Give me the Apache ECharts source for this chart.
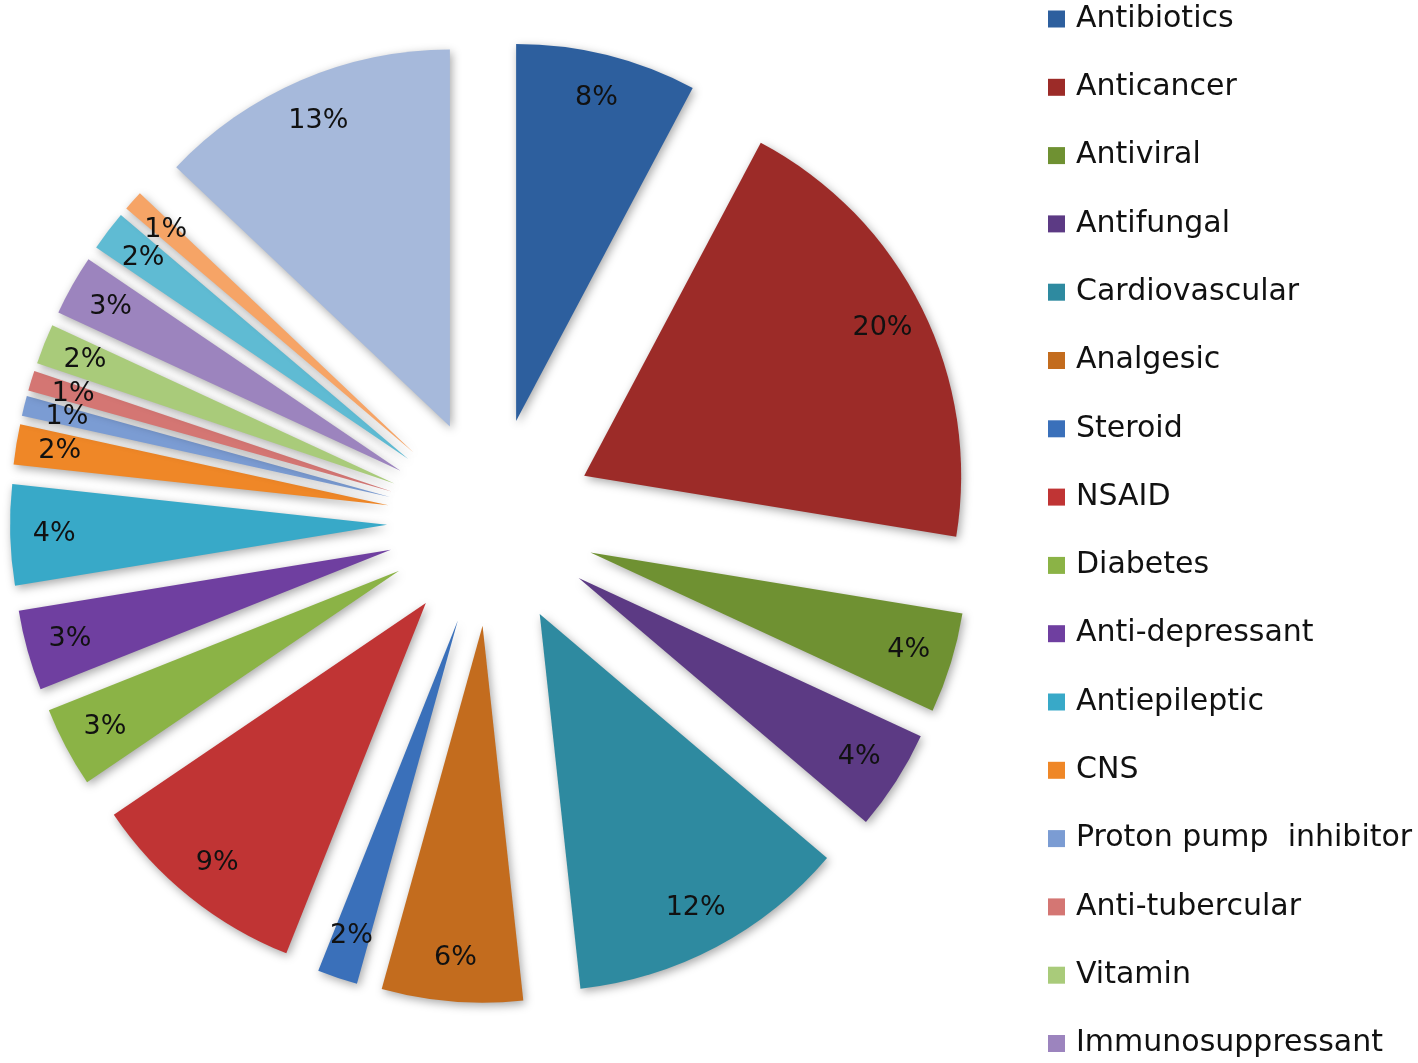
<!DOCTYPE html>
<html>
<head>
<meta charset="utf-8">
<script src="https://cdn.jsdelivr.net/npm/echarts@6/dist/echarts.min.js"></script>
<style>
html,body{margin:0;padding:0;background:#fff;}
#chart{width:1418px;height:1063px;}
</style>
</head>
<body>
<div id="chart"></div>
<script>
// Categories (last three are not visible in the cut-off legend)
const categories = [
  'Antibiotics','Anticancer','Antiviral','Antifungal','Cardiovascular','Analgesic',
  'Steroid','NSAID','Diabetes','Anti-depressant','Antiepileptic','CNS',
  'Proton pump  inhibitor','Anti-tubercular','Vitamin','Immunosuppressant',
  'Antihistamine','Antimalarial','Others'
];
// Counts (labels show rounded percentages)
const values = [9,23,5,5,14,7,2,11,4,4,5,2,1,1,2,3,2,1,15];
const colors = [
  '#2D5F9E','#9C2B28','#6F9132','#5C3A84','#2E8AA0','#C36C1E',
  '#3A70BA','#C03434','#8BB346','#6F3FA0','#38A9C8','#EF8727',
  '#7B9CD3','#D47673','#A9CB7A','#9C84BE','#5FBBD3','#F6A466','#A6B9DB'
];
const legendNames = categories.slice(0,16);
const total = values.reduce((a,b)=>a+b,0);

const mainData = categories.map((n,i)=>({name:n, value:values[i], selected:true, itemStyle:{color:colors[i]}}));
const labelData = categories.map((n,i)=>({name:n, value:values[i], selected:true}));

const chart = echarts.init(document.getElementById('chart'), null, {renderer:'canvas'});
chart.setOption({
  animation:false,
  backgroundColor:'#fff',
  legend:{
    data:legendNames,
    orient:'vertical',
    left:1048,
    top:4,
    padding:0,
    itemWidth:17,
    itemHeight:17,
    itemGap:38.3,
    icon:'rect',
    selectedMode:false,
    textStyle:{fontFamily:'DejaVu Sans', fontSize:30, lineHeight:30, color:'#111', padding:[0,0,0,6]}
  },
  series:[
    {
      type:'pie',
      center:[491,522],
      radius:377,
      startAngle:90,
      clockwise:true,
      selectedMode:'multiple',
      selectedOffset:104,
      label:{show:false},
      labelLine:{show:false},
      emphasis:{disabled:true},
      itemStyle:{shadowBlur:10, shadowColor:'rgba(0,0,0,0.35)', shadowOffsetX:2, shadowOffsetY:3},
      data:mainData
    },
    {
      type:'pie',
      silent:true,
      center:[491,522],
      radius:[283,377],
      startAngle:90,
      clockwise:true,
      selectedMode:'multiple',
      selectedOffset:104,
      avoidLabelOverlap:false,
      minShowLabelAngle:0,
      labelLayout:{hideOverlap:false},
      itemStyle:{color:'rgba(0,0,0,0)'},
      label:{show:true, position:'inside', overflow:'none',
        formatter:function(p){return Math.round(p.value/total*100)+'%';},
        fontFamily:'DejaVu Sans', fontSize:27, color:'#111'},
      labelLine:{show:false},
      emphasis:{disabled:true},
      data:labelData
    }
  ]
});
</script>
</body>
</html>
